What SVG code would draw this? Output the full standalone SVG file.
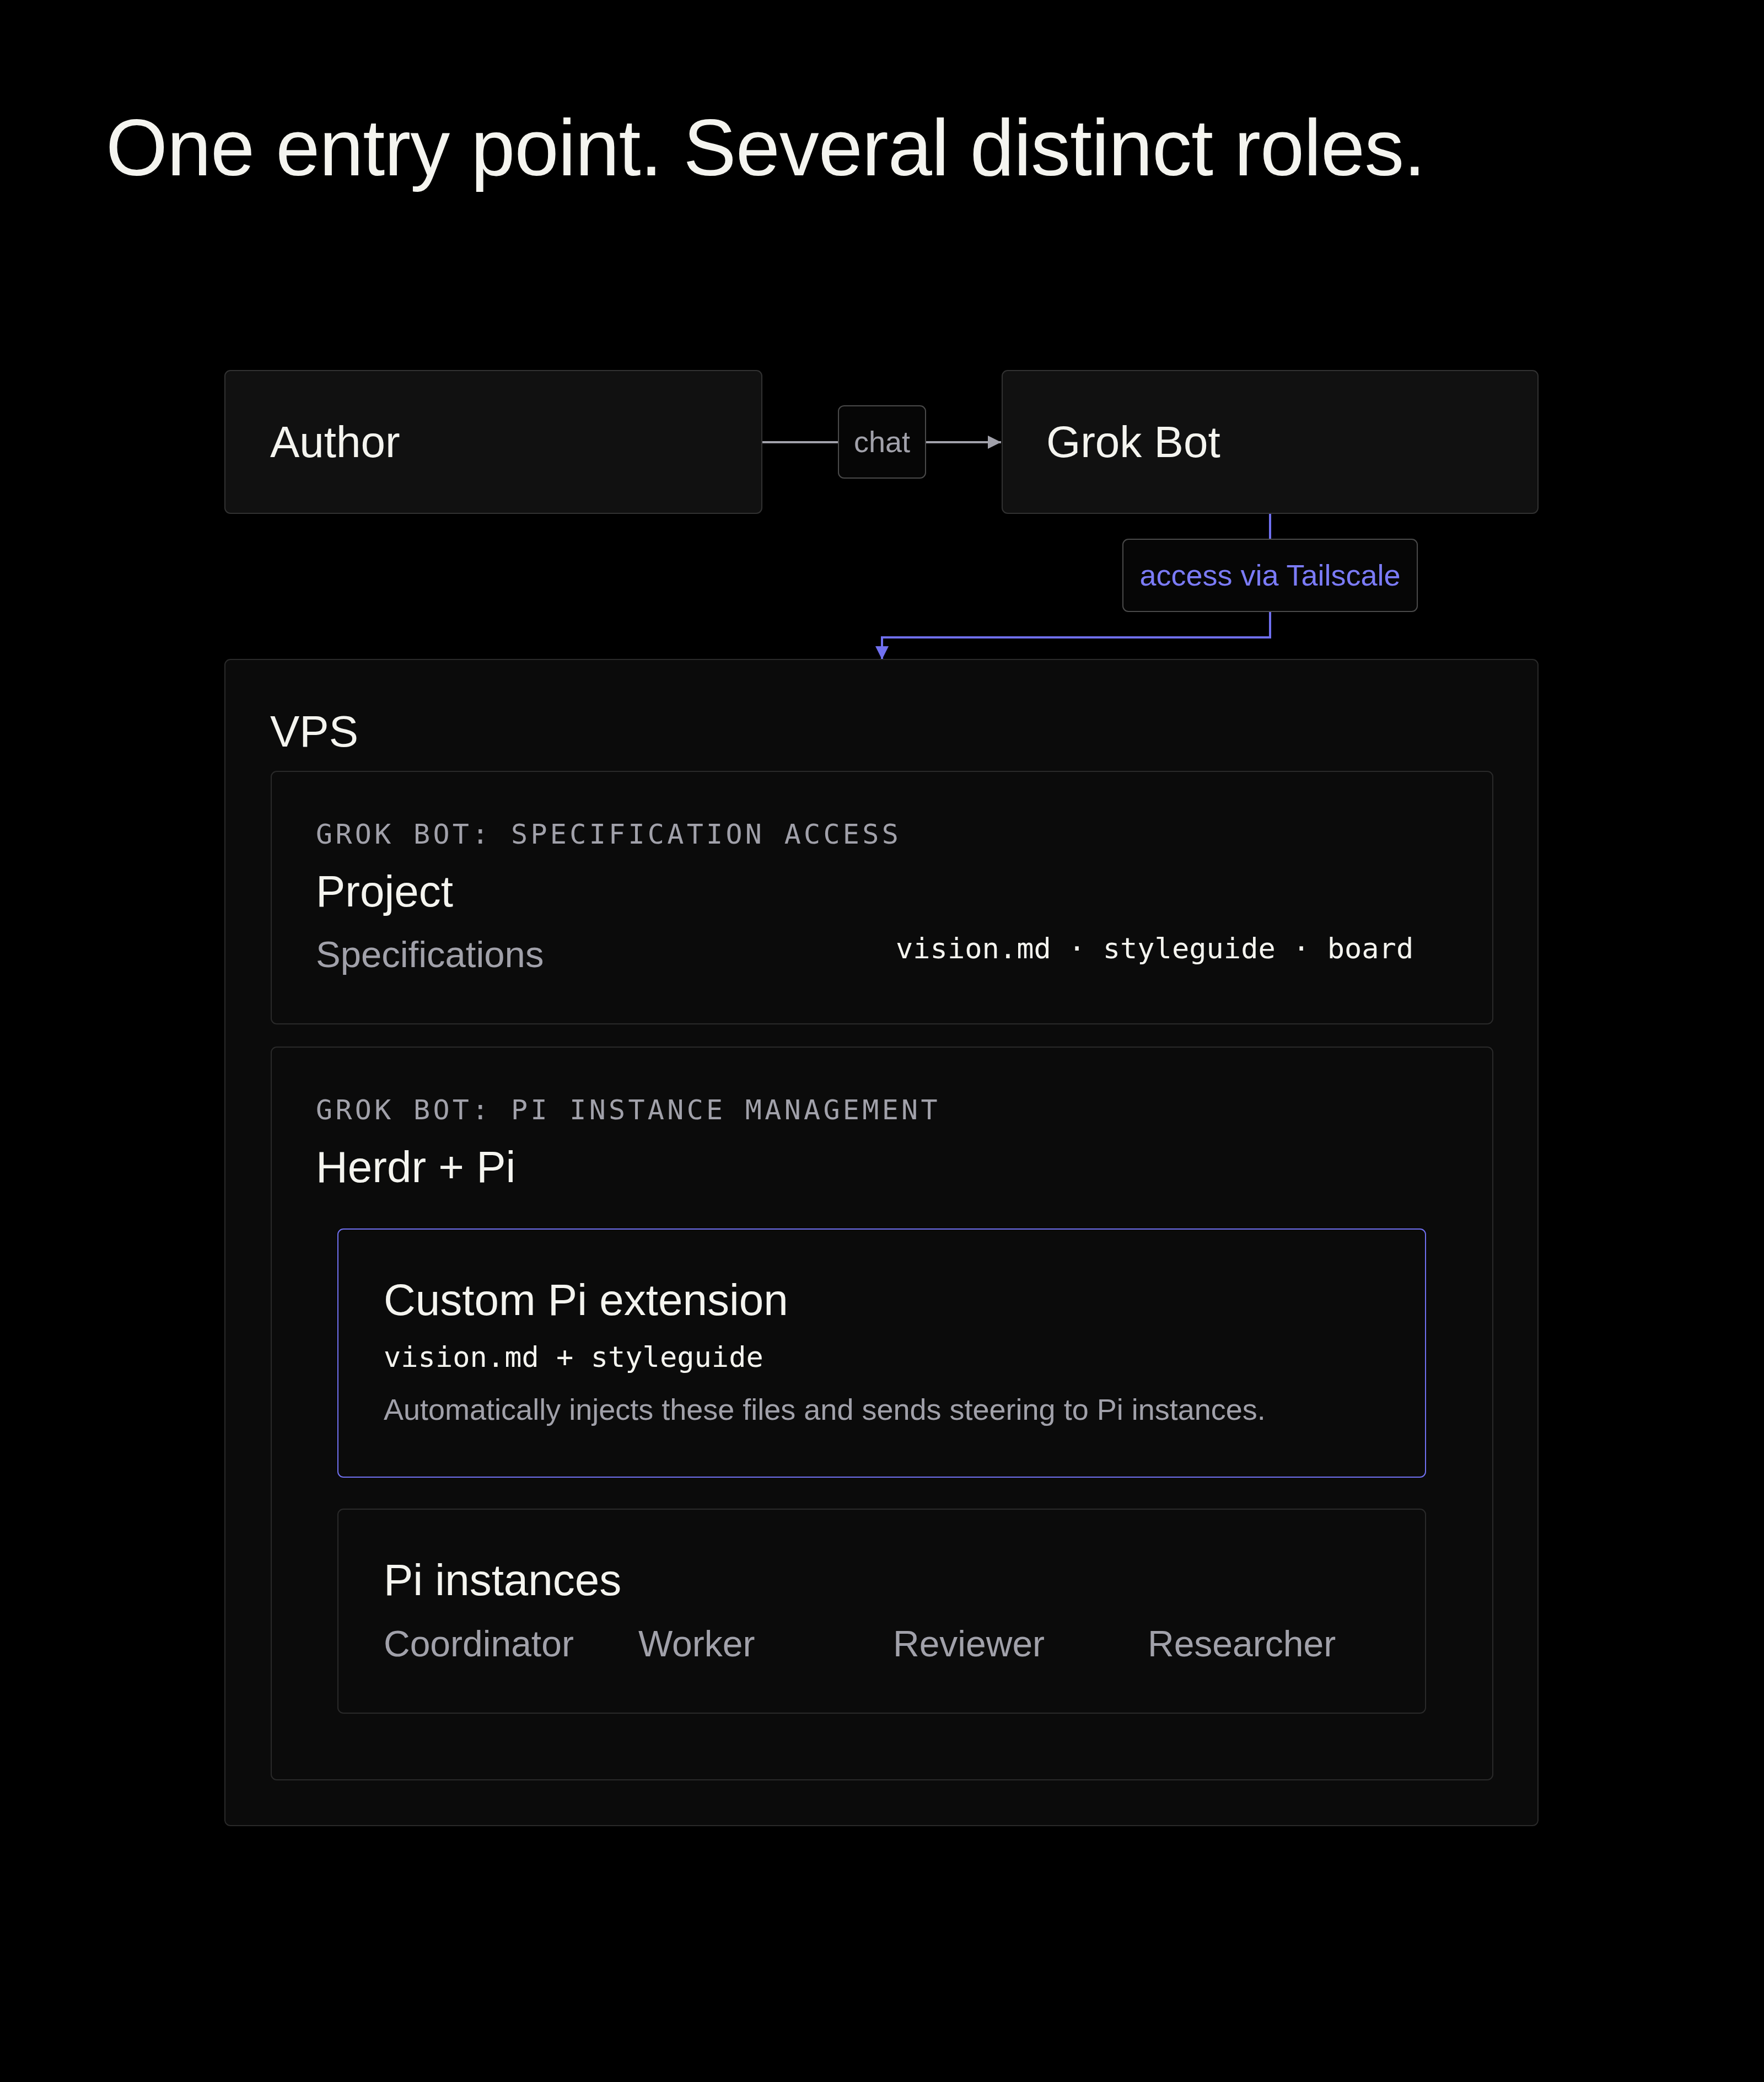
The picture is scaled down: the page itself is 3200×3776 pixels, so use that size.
<svg xmlns="http://www.w3.org/2000/svg" width="3200" height="3776" viewBox="0 0 3200 3776">
  <defs>
    <style>
      .sans { font-family: "Liberation Sans", Arial, sans-serif; }
      .mono { font-family: "DejaVu Sans Mono", "Liberation Mono", monospace; }
      .hi { fill: #f4f4ef; }
      .dim { fill: #a1a1aa; }
      .accent { fill: #7b7bf7; }
      .h80 { font-size: 80px; }
      .card { fill: #111111; stroke: #323232; stroke-width: 2; }
      .panel { fill: #0b0b0b; stroke: #2a2a2a; stroke-width: 2; }
      .panel-accent { fill: #0b0b0b; stroke: #7070f0; stroke-width: 2; }
      .tag { fill: #060606; stroke: #4a4a4a; stroke-width: 2; }
      .eyebrow { font-size: 50px; letter-spacing: 5.3px; }
      .code { font-size: 52px; }
      .role { font-size: 66px; }
      .wire-grey { fill: none; stroke: #a1a1aa; stroke-width: 4; }
      .wire-accent { fill: none; stroke: #7070f0; stroke-width: 4; }
    </style>
    <marker id="arrow-grey" viewBox="0 0 24 24" refX="24" refY="12" markerWidth="24" markerHeight="24" markerUnits="userSpaceOnUse" orient="auto">
      <path d="M0,0 L24,12 L0,24 Z" fill="#a1a1aa"/>
    </marker>
    <marker id="arrow-accent" viewBox="0 0 24 24" refX="24" refY="12" markerWidth="24" markerHeight="24" markerUnits="userSpaceOnUse" orient="auto">
      <path d="M0,0 L24,12 L0,24 Z" fill="#7070f0"/>
    </marker>
  </defs>

  <rect x="0" y="0" width="3200" height="3776" fill="#000000"/>

  <text id="title" class="sans hi" x="192" y="318" font-size="144" letter-spacing="-1">One entry point. Several distinct roles.</text>

  <g id="connectors">
    <line class="wire-grey" x1="1382" y1="802" x2="1816" y2="802" marker-end="url(#arrow-grey)"/>
    <path class="wire-accent" d="M2304,931 V1156 H1600 V1196" marker-end="url(#arrow-accent)"/>
    <line class="wire-accent" x1="1600" y1="2679" x2="1600" y2="2737" marker-end="url(#arrow-accent)"/>
  </g>

  <g id="author">
    <rect class="card" x="408" y="672" width="974" height="259" rx="10"/>
    <text class="sans hi h80" x="490" y="829">Author</text>
  </g>

  <g id="grok-bot">
    <rect class="card" x="1818" y="672" width="972" height="259" rx="10"/>
    <text class="sans hi h80" x="1898" y="829">Grok Bot</text>
  </g>

  <g id="label-chat">
    <rect class="tag" x="1521" y="736" width="158" height="131" rx="10"/>
    <text class="sans dim" x="1600" y="820" font-size="54" text-anchor="middle">chat</text>
  </g>

  <g id="label-tailscale">
    <rect class="tag" x="2037" y="978" width="534" height="131" rx="10"/>
    <text class="sans accent" x="2304" y="1062" font-size="54" text-anchor="middle">access via Tailscale</text>
  </g>

  <g id="vps">
    <rect class="panel" x="408" y="1196" width="2382" height="2115" rx="10"/>
    <text class="sans hi h80" x="490" y="1354">VPS</text>
  </g>

  <g id="project">
    <rect class="panel" x="492" y="1399" width="2216" height="458" rx="10"/>
    <text class="mono dim eyebrow" x="573" y="1530">GROK BOT: SPECIFICATION ACCESS</text>
    <text class="sans hi h80" x="573" y="1644">Project</text>
    <text class="sans dim" x="573" y="1754" font-size="67">Specifications</text>
    <text class="mono hi code" x="1625" y="1738">vision.md · styleguide · board</text>
  </g>

  <g id="herdr-pi">
    <rect class="panel" x="492" y="1899" width="2216" height="1329" rx="10"/>
    <text class="mono dim eyebrow" x="573" y="2030">GROK BOT: PI INSTANCE MANAGEMENT</text>
    <text class="sans hi h80" x="573" y="2144">Herdr + Pi</text>
  </g>

  <g id="custom-pi-extension">
    <rect class="panel-accent" x="613" y="2229" width="1973" height="450" rx="10"/>
    <text class="sans hi h80" x="696" y="2385">Custom Pi extension</text>
    <text class="mono hi code" x="696" y="2479">vision.md + styleguide</text>
    <text class="sans dim" x="696" y="2575" font-size="54">Automatically injects these files and sends steering to Pi instances.</text>
  </g>

  <g id="pi-instances">
    <rect class="panel" x="613" y="2737" width="1973" height="370" rx="10"/>
    <text class="sans hi h80" x="696" y="2893">Pi instances</text>
    <text class="sans dim role" x="696" y="3004">Coordinator</text>
    <text class="sans dim role" x="1158" y="3004">Worker</text>
    <text class="sans dim role" x="1620" y="3004">Reviewer</text>
    <text class="sans dim role" x="2082" y="3004">Researcher</text>
  </g>
</svg>
